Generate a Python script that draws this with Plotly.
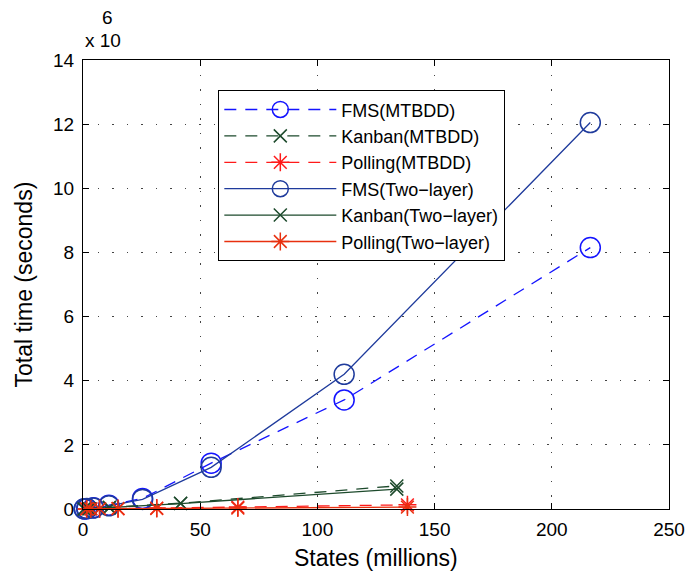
import plotly.graph_objects as go

# States (millions)
fms_states = [0.54, 1.64, 4.46, 11.06, 25.40, 54.68, 111.41, 216.43]
kanban_states = [0.45, 2.55, 11.26, 41.64, 133.87]
polling_states = [1.57, 3.34, 7.08, 14.94, 31.46, 66.06, 138.41]

# Total time (x 10^6 seconds)
fms_mtbdd = [0.003, 0.01, 0.04, 0.12, 0.33, 1.43, 3.40, 8.15]
fms_two = [0.005, 0.012, 0.03, 0.10, 0.30, 1.30, 4.20, 12.05]
kanban_mtbdd = [0.002, 0.01, 0.05, 0.18, 0.72]
kanban_two = [0.001, 0.01, 0.04, 0.17, 0.62]
polling_mtbdd = [0.002, 0.004, 0.008, 0.015, 0.03, 0.06, 0.13]
polling_two = [0.001, 0.002, 0.004, 0.008, 0.015, 0.03, 0.06]

x_ticks = [0, 50, 100, 150, 200, 250]
y_ticks = [0, 2, 4, 6, 8, 10, 12, 14]

series = [
    ("FMS(MTBDD)", fms_states, fms_mtbdd, "#1414ff", "dash", "circle-open", 20),
    ("Kanban(MTBDD)", kanban_states, kanban_mtbdd, "#1d4a2c", "dash", "x-thin-open", 13),
    ("Polling(MTBDD)", polling_states, polling_mtbdd, "#ff1a1a", "dash", "asterisk-open", 15),
    ("FMS(Two\u2212layer)", fms_states, fms_two, "#1f3b9c", "solid", "circle-open", 20),
    ("Kanban(Two\u2212layer)", kanban_states, kanban_two, "#1d4a2c", "solid", "x-thin-open", 13),
    ("Polling(Two\u2212layer)", polling_states, polling_two, "#e8300f", "solid", "asterisk-open", 15),
]

fig = go.Figure()
for name, xs, ys, col, dash, sym, sz in series:
    fig.add_trace(go.Scatter(
        x=xs, y=ys, name=name, mode="lines+markers", cliponaxis=False,
        line=dict(color=col, width=1.3, dash="12px,9px" if dash == "dash" else "solid"),
        marker=dict(symbol=sym, size=sz, color=col, line=dict(color=col, width=1.5)),
    ))

font = "Liberation Sans, Arial, Helvetica, sans-serif"
axis_common = dict(
    showline=True, linecolor="black", linewidth=1.3, mirror="ticks",
    ticks="inside", ticklen=6, tickcolor="black", tickwidth=1,
    showgrid=True, gridcolor="#444", gridwidth=1, griddash="1.5px,13px",
    zeroline=False, automargin=False,
    tickfont=dict(size=19, color="black", family=font),
)
fig.update_xaxes(range=[0, 250], tickvals=x_ticks, ticklabelstandoff=3, **axis_common)
fig.update_yaxes(range=[0, 14], tickvals=y_ticks, ticklabelstandoff=4, **axis_common)

fig.update_layout(
    width=686, height=571,
    margin=dict(l=83, r=17, t=60, b=62),
    plot_bgcolor="white", paper_bgcolor="white",
    font=dict(family=font, color="black"),
    legend=dict(x=0.2304, y=0.9332, xanchor="left", yanchor="top",
                bgcolor="white", bordercolor="black", borderwidth=1.3,
                font=dict(size=18, family=font, color="black"),
                itemwidth=112, tracegroupgap=0),
    annotations=[
        dict(text="States (millions)", xref="paper", yref="paper", x=0.5, y=0, yshift=-49,
             xanchor="center", yanchor="middle", showarrow=False, font=dict(size=23, family=font)),
        dict(text="Total time (seconds)", xref="paper", yref="paper", x=0, y=0.5, xshift=-60,
             xanchor="center", yanchor="middle", textangle=-90, showarrow=False,
             font=dict(size=23, family=font)),
        dict(text="x 10", xref="paper", yref="paper", x=0, y=1.0, yshift=20,
             xanchor="left", yanchor="middle", showarrow=False, font=dict(size=19, family=font)),
        dict(text="6", xref="paper", yref="paper", x=0, y=1.0, xshift=24, yshift=43,
             xanchor="center", yanchor="middle", showarrow=False, font=dict(size=19, family=font)),
    ],
)

fig.write_html("out.html")
